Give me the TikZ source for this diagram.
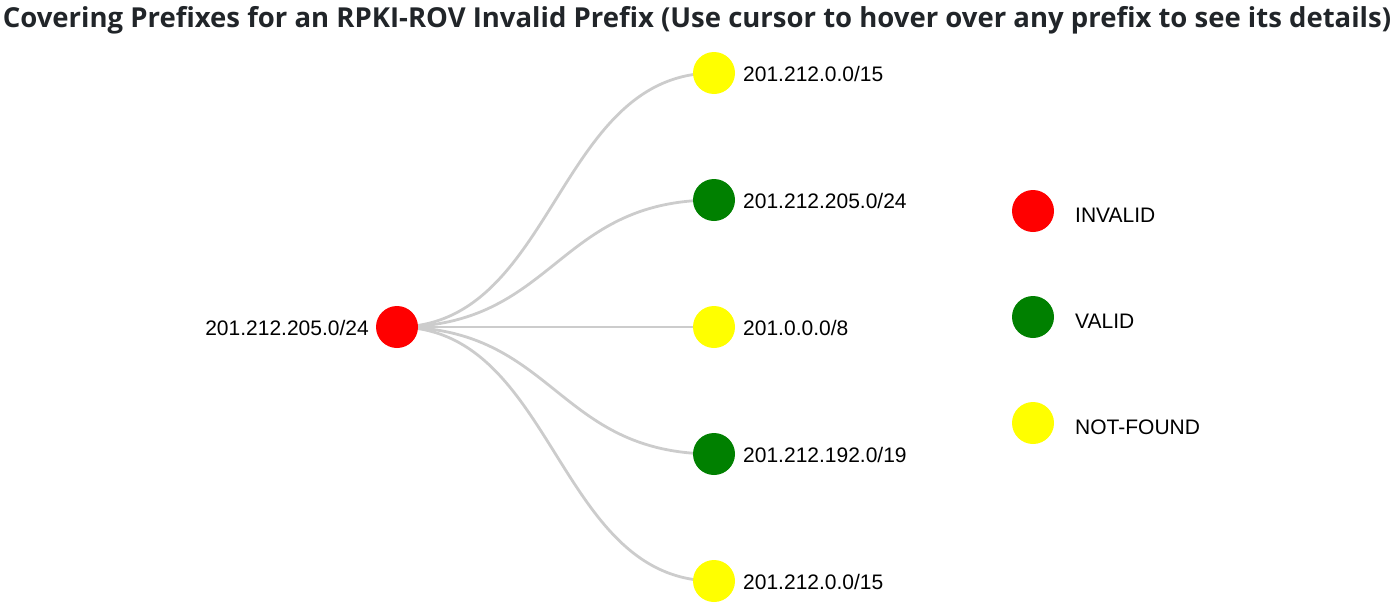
\documentclass[tikz,border=0pt]{standalone}
\usepackage{fontspec}
\setmainfont{Liberation Sans}
\newfontfamily\titlefont{Open Sans}
\usetikzlibrary{backgrounds}
\definecolor{edgegray}{HTML}{CCCCCC}
\definecolor{titlecol}{HTML}{212529}
\definecolor{vgreen}{HTML}{008000}
\definecolor{nfyellow}{HTML}{FFFF00}
\definecolor{invred}{HTML}{FF0000}
\tikzset{
  dot/.style={circle,minimum size=42pt,inner sep=0pt},
  inv/.style={dot,fill=invred},
  val/.style={dot,fill=vgreen},
  nf/.style={dot,fill=nfyellow},
  lbl/.style={font=\fontsize{21}{25}\selectfont,inner sep=0pt,text=black},
  link/.style={draw=edgegray,line width=2.8pt},
}
\begin{document}
\begin{tikzpicture}[x=1pt,y=-1pt]
\useasboundingbox (0,0) rectangle (1395,608);
\node[font=\titlefont\bfseries\fontsize{27.5}{32}\selectfont,text=titlecol,inner sep=0pt] (title) at (697,20) {Covering Prefixes for an RPKI-ROV Invalid Prefix (Use cursor to hover over any prefix to see its details)};
\node[inv] (root) at (397,327) {};
\node[nf] (c1) at (714,73) {};
\node[val] (c2) at (714,200) {};
\node[nf] (c3) at (714,327) {};
\node[val] (c4) at (714,454) {};
\node[nf] (c5) at (714,581) {};
\node[lbl,anchor=east] (rl) at (369,328) {201.212.205.0/24};
\node[lbl,anchor=west] (l1) at (743,74) {201.212.0.0/15};
\node[lbl,anchor=west] (l2) at (743,201) {201.212.205.0/24};
\node[lbl,anchor=west] (l3) at (743,328) {201.0.0.0/8};
\node[lbl,anchor=west] (l4) at (743,455) {201.212.192.0/19};
\node[lbl,anchor=west] (l5) at (743,582) {201.212.0.0/15};
\begin{scope}[on background layer]
\foreach \c in {c1,c2,c3,c4,c5}
  \draw[link] (root.center) .. controls +(158.5,0) and +(-158.5,0) .. (\c.center);
\end{scope}
\node[inv] (g1) at (1033,211) {};
\node[val] (g2) at (1033,317) {};
\node[nf] (g3) at (1033,423) {};
\node[lbl,anchor=west] (gl1) at (1075,215) {INVALID};
\node[lbl,anchor=west] (gl2) at (1075,321) {VALID};
\node[lbl,anchor=west] (gl3) at (1075,427) {NOT-FOUND};
\end{tikzpicture}
\end{document}
